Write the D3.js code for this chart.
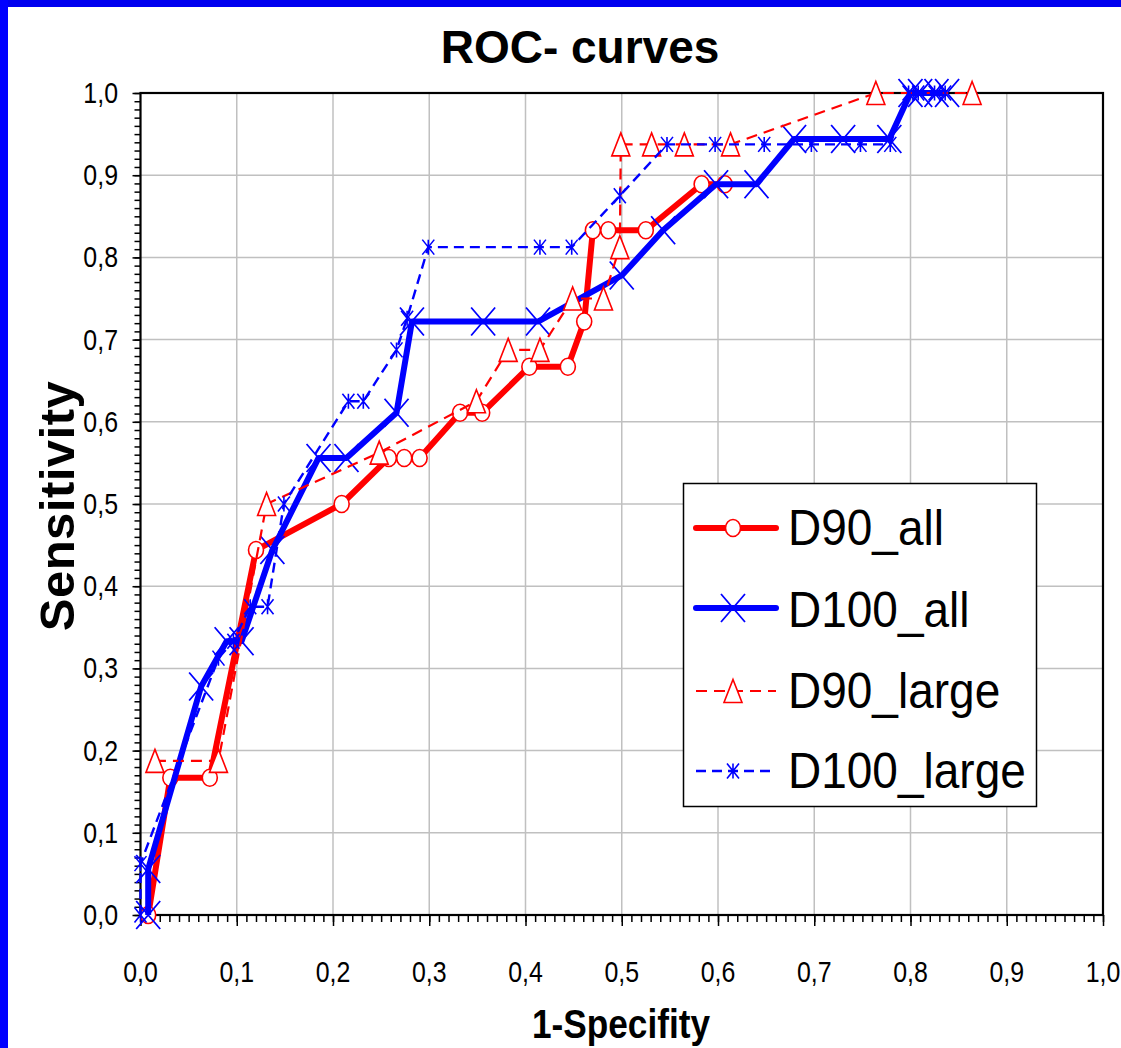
<!DOCTYPE html>
<html lang="en">
<head>
<meta charset="UTF-8">
<title>ROC- curves</title>
<script src="https://d3js.org/d3.v7.min.js"></script>
<style>
  body { margin: 0; background: #fff; }
  text { font-family: "Liberation Sans", Arial, sans-serif; fill: #000; }
  .grid line { stroke: #c0c0c0; stroke-width: 1.5; }
  .axis path { display: none; }
  .axis line { stroke: #000; stroke-width: 1.5; }
</style>
</head>
<body>
<div id="chart"></div>
<script type="text/javascript">
var width = 1121, height = 1048;

// tick labels
var tickValues = [0, 0.1, 0.2, 0.3, 0.4, 0.5, 0.6, 0.7, 0.8, 0.9, 1.0];

// series values (x = 1-specificity, y = sensitivity)
var d90AllX = [0.008, 0.031, 0.072, 0.12, 0.209, 0.258, 0.274, 0.29, 0.332, 0.355, 0.404, 0.444, 0.461, 0.47, 0.486, 0.525, 0.583, 0.607];
var d90AllY = [0, 0.167, 0.167, 0.444, 0.5, 0.556, 0.556, 0.556, 0.611, 0.611, 0.667, 0.667, 0.722, 0.833, 0.833, 0.833, 0.889, 0.889];

var d100AllX = [0.008, 0.008, 0.063, 0.0895, 0.105, 0.137, 0.185, 0.214, 0.266, 0.282, 0.356, 0.413, 0.5, 0.543, 0.598, 0.64, 0.679, 0.73, 0.778, 0.8, 0.81, 0.827, 0.838];
var d100AllY = [0, 0.056, 0.278, 0.333, 0.333, 0.444, 0.556, 0.556, 0.611, 0.722, 0.722, 0.722, 0.778, 0.833, 0.889, 0.889, 0.944, 0.944, 0.944, 1, 1, 1, 1];

var d90LargeX = [0.015, 0.081, 0.131, 0.248, 0.349, 0.382, 0.415, 0.449, 0.481, 0.498, 0.499, 0.531, 0.565, 0.613, 0.764, 0.864];
var d90LargeY = [0.1875, 0.1875, 0.5, 0.5625, 0.625, 0.6875, 0.6875, 0.75, 0.75, 0.8125, 0.9375, 0.9375, 0.9375, 0.9375, 1, 1];

var d100LargeX = [0, 0, 0.081, 0.0965, 0.114, 0.132, 0.149, 0.216, 0.2315, 0.266, 0.277, 0.299, 0.415, 0.448, 0.498, 0.547, 0.597, 0.648, 0.697, 0.748, 0.779, 0.798, 0.808, 0.825, 0.836];
var d100LargeY = [0, 0.0625, 0.3125, 0.333, 0.375, 0.375, 0.5, 0.625, 0.625, 0.6875, 0.726, 0.8125, 0.8125, 0.8125, 0.875, 0.9375, 0.9375, 0.9375, 0.9375, 0.9375, 0.9375, 1, 1, 1, 1];

var series = [
  {name: "D90_all", xs: d90AllX, ys: d90AllY, color: "#ff0000", width: 6, dash: null, marker: "circle"},
  {name: "D100_all", xs: d100AllX, ys: d100AllY, color: "#0000ff", width: 6, dash: null, marker: "cross"},
  {name: "D90_large", xs: d90LargeX, ys: d90LargeY, color: "#ff0000", width: 2.2, dash: "11,7", marker: "triangle"},
  {name: "D100_large", xs: d100LargeX, ys: d100LargeY, color: "#0000ff", width: 2.4, dash: "10,6", marker: "star"}
];

var svg = d3.select("#chart").append("svg")
    .attr("width", width)
    .attr("height", height);

svg.append("rect").attr("width", width).attr("height", height).attr("fill", "#fff");
// blue slide border
svg.append("rect").attr("x", 0).attr("y", 0).attr("width", width).attr("height", 7).attr("fill", "#0000f0");
svg.append("rect").attr("x", 0).attr("y", 0).attr("width", 8).attr("height", height).attr("fill", "#0000ff");

var x = d3.scaleLinear().domain([0, 1]).range([140.5, 1103]);
var y = d3.scaleLinear().domain([0, 1]).range([915, 93]);
var fmt = function(d) { return d3.format(".1f")(d).replace(".", ","); };

// grid
svg.append("g").attr("class", "grid")
  .selectAll("line").data(tickValues.slice(1, -1)).enter().append("line")
    .attr("x1", function(d) { return x(d); }).attr("x2", function(d) { return x(d); })
    .attr("y1", y(0)).attr("y2", y(1));
svg.append("g").attr("class", "grid")
  .selectAll("line").data(tickValues.slice(1, -1)).enter().append("line")
    .attr("y1", function(d) { return y(d); }).attr("y2", function(d) { return y(d); })
    .attr("x1", x(0)).attr("x2", x(1));

var minor = d3.range(0, 101).map(function(i) { return i / 100; });

// y axis ticks
svg.append("g").attr("class", "axis").attr("transform", "translate(" + x(0) + ",0)")
    .call(d3.axisLeft(y).tickValues(minor).tickSize(6).tickFormat(""));
svg.append("g").attr("class", "axis").attr("transform", "translate(" + x(0) + ",0)")
    .call(d3.axisLeft(y).tickValues(tickValues).tickSize(8).tickFormat(""));
// x axis ticks
svg.append("g").attr("class", "axis").attr("transform", "translate(0," + y(0) + ")")
    .call(d3.axisBottom(x).tickValues(minor).tickSize(7).tickFormat(""));
svg.append("g").attr("class", "axis").attr("transform", "translate(0," + y(0) + ")")
    .call(d3.axisBottom(x).tickValues(tickValues).tickSize(11).tickFormat(""));

// frame
svg.append("rect")
    .attr("x", x(0)).attr("y", y(1))
    .attr("width", x(1) - x(0)).attr("height", y(0) - y(1))
    .attr("fill", "none").attr("stroke", "#000").attr("stroke-width", 2.2);

function squeezed(g, tx, ty, sx, str, size, anchor, weight) {
  g.append("text")
    .attr("transform", "translate(" + tx + "," + ty + ") scale(" + sx + ",1)")
    .attr("text-anchor", anchor)
    .style("font-size", size + "px")
    .style("font-weight", weight || "normal")
    .text(str);
}

// tick labels
tickValues.forEach(function(d) {
  squeezed(svg, 118, y(d) + 10, 0.86, fmt(d), 29, "end");
  squeezed(svg, x(d), 982, 0.86, fmt(d), 29, "middle");
});

// titles
svg.append("text").attr("x", 580).attr("y", 63).attr("text-anchor", "middle")
    .style("font-size", "46px").style("font-weight", "bold").text("ROC- curves");
squeezed(svg, 621, 1038, 0.88, "1-Specifity", 40, "middle", "bold");
svg.append("text").attr("transform", "translate(74,506) rotate(-90)").attr("text-anchor", "middle")
    .style("font-size", "49px").style("font-weight", "bold").style("letter-spacing", "0.5px").text("Sensitivity");

function drawMarker(g, type, color) {
  if (type === "circle") {
    g.append("ellipse").attr("rx", 7.5).attr("ry", 8.5)
      .attr("fill", "#fff").attr("stroke", color).attr("stroke-width", 1.6);
  } else if (type === "cross") {
    g.append("path").attr("d", "M-12,-14L12,14M-12,14L12,-14")
      .attr("fill", "none").attr("stroke", color).attr("stroke-width", 1.8);
  } else if (type === "triangle") {
    g.append("path").attr("d", "M0,-11.5L9,11.5L-9,11.5Z")
      .attr("fill", "#fff").attr("stroke", color).attr("stroke-width", 1.6);
  } else {
    g.append("path").attr("d", "M-6,-7.5L6,7.5M-6,7.5L6,-7.5M0,-7.5L0,7.5")
      .attr("fill", "none").attr("stroke", color).attr("stroke-width", 1.6);
  }
}

var line = d3.line().x(function(d) { return x(d[0]); }).y(function(d) { return y(d[1]); });

series.forEach(function(s) {
  var pts = s.xs.map(function(v, i) { return [v, s.ys[i]]; });
  svg.append("path").datum(pts)
    .attr("d", line)
    .attr("fill", "none")
    .attr("stroke", s.color)
    .attr("stroke-width", s.width)
    .attr("stroke-linejoin", "round")
    .attr("stroke-dasharray", s.dash);
  pts.forEach(function(p) {
    var g = svg.append("g").attr("transform", "translate(" + x(p[0]) + "," + y(p[1]) + ")");
    drawMarker(g, s.marker, s.color);
  });
});

// legend
var legend = svg.append("g");
legend.append("rect").attr("x", 683.5).attr("y", 483.5).attr("width", 353).attr("height", 323)
    .attr("fill", "#fff").attr("stroke", "#000").attr("stroke-width", 1.5);
var rowY = [528, 608, 691, 771];
var baseY = [545, 627, 708, 788];
series.forEach(function(s, i) {
  legend.append("line")
    .attr("x1", 696).attr("x2", 776).attr("y1", rowY[i]).attr("y2", rowY[i])
    .attr("stroke", s.color).attr("stroke-width", s.width)
    .attr("stroke-linecap", s.dash ? "butt" : "round")
    .attr("stroke-dasharray", s.dash);
  var g = legend.append("g").attr("transform", "translate(733," + rowY[i] + ")");
  drawMarker(g, s.marker, s.color);
  squeezed(legend, 788, baseY[i], 0.92, s.name, 50, "start");
});
</script>
</body>
</html>
